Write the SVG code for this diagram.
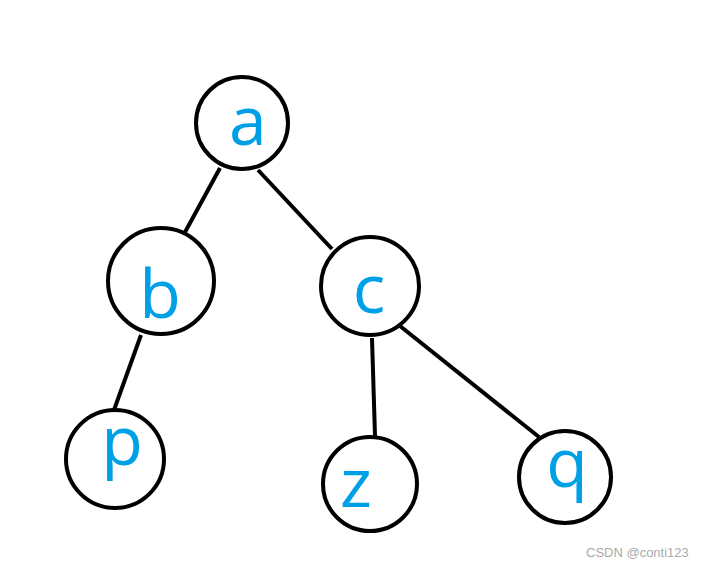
<svg xmlns="http://www.w3.org/2000/svg" width="706" height="567" viewBox="0 0 706 567">
<style>
.node{fill:#fff;stroke:#000;stroke-width:4}
.lbl{font-family:"Open Sans","Noto Sans",sans-serif;font-size:68px;fill:#00a0e6;text-anchor:middle}
.edge{stroke:#000;stroke-width:4;fill:none}
.wm{font-family:"Liberation Sans",Arial,sans-serif;font-size:13px;fill:#aaa}
</style>
<rect width="706" height="567" fill="#fff"/>
<g id="connectors">
<line class="edge" x1="220" y1="168" x2="184" y2="234"/>
<line class="edge" x1="258" y1="170" x2="332" y2="249"/>
<line class="edge" x1="141" y1="335" x2="114" y2="410"/>
<line class="edge" x1="372" y1="338" x2="375" y2="436"/>
<line class="edge" x1="400" y1="326" x2="539" y2="437"/>
</g>
<g id="node-a"><circle class="node" cx="242" cy="123" r="46"/><text class="lbl" x="248" y="145">a</text></g>
<g id="node-b"><circle class="node" cx="161" cy="281" r="53"/><text class="lbl" x="160" y="318">b</text></g>
<g id="node-c"><circle class="node" cx="370" cy="286" r="49"/><text class="lbl" x="369" y="313">c</text></g>
<g id="node-p"><circle class="node" cx="115" cy="459" r="49"/><text class="lbl" x="122" y="465">p</text></g>
<g id="node-z"><circle class="node" cx="370" cy="484" r="47"/><text class="lbl" x="356" y="507">z</text></g>
<g id="node-q"><circle class="node" cx="565" cy="477" r="46"/><text class="lbl" x="567" y="487">q</text></g>
<text class="wm" x="586" y="557">CSDN @conti123</text>
</svg>
